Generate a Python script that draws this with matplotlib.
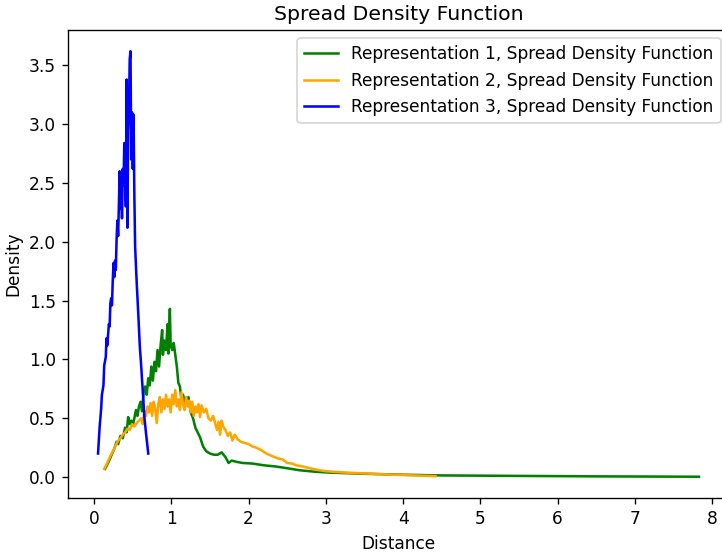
import matplotlib
matplotlib.use("Agg")
import matplotlib.pyplot as plt

# values
blue_x = [0.05, 0.07, 0.09, 0.10, 0.12, 0.13, 0.15, 0.16, 0.17, 0.19, 0.20, 0.21,
          0.22, 0.23, 0.24, 0.25, 0.26, 0.27, 0.28, 0.29, 0.30, 0.31, 0.32, 0.33,
          0.34, 0.35, 0.36, 0.37, 0.38, 0.39, 0.40, 0.41, 0.42, 0.43, 0.44, 0.45,
          0.46, 0.47, 0.48, 0.49, 0.50, 0.51, 0.52, 0.53, 0.55, 0.57, 0.59, 0.61,
          0.63, 0.65, 0.67, 0.70]
blue_y = [0.20, 0.42, 0.58, 0.70, 0.78, 0.95, 1.02, 1.18, 1.12, 1.30, 1.28, 1.48,
          1.52, 1.46, 1.66, 1.82, 1.70, 1.84, 1.76, 2.02, 2.18, 2.05, 2.32, 2.60,
          2.28, 2.58, 2.20, 2.62, 2.48, 2.84, 2.58, 2.30, 3.38, 2.12, 2.95, 3.12,
          3.55, 3.62, 2.70, 3.10, 2.62, 3.08, 2.40, 1.96, 1.66, 1.40, 1.12, 0.93,
          0.72, 0.51, 0.38, 0.20]

green_x = [0.14, 0.18, 0.22, 0.26, 0.29, 0.31, 0.34, 0.37, 0.40, 0.42, 0.44, 0.46,
           0.48, 0.50, 0.52, 0.54, 0.56, 0.58, 0.60, 0.62, 0.64, 0.66, 0.68, 0.70,
           0.72, 0.74, 0.76, 0.78, 0.80, 0.82, 0.84, 0.86, 0.88, 0.89, 0.91, 0.93,
           0.95, 0.96, 0.98, 0.99, 1.01, 1.03, 1.05, 1.07, 1.09, 1.11, 1.13, 1.15,
           1.18, 1.20, 1.22, 1.25, 1.28, 1.31, 1.34, 1.37, 1.41, 1.45, 1.50, 1.55,
           1.60, 1.65, 1.70, 1.74, 1.78, 1.84, 1.92, 2.05, 2.20, 2.35, 2.50, 2.66,
           2.85, 3.05, 3.50, 4.00, 4.50, 5.50, 6.50, 7.83]
green_y = [0.07, 0.12, 0.18, 0.24, 0.30, 0.28, 0.35, 0.33, 0.42, 0.38, 0.51, 0.45,
           0.48, 0.44, 0.50, 0.57, 0.52, 0.60, 0.64, 0.56, 0.72, 0.77, 0.70, 0.84,
           0.78, 0.94, 0.82, 0.98, 0.90, 1.08, 0.94, 1.12, 1.25, 1.04, 1.16, 1.08,
           1.30, 1.05, 1.43, 1.12, 1.08, 1.14, 1.04, 0.94, 0.80, 0.77, 0.66, 0.70,
           0.62, 0.66, 0.68, 0.55, 0.50, 0.42, 0.38, 0.34, 0.26, 0.22, 0.20, 0.19,
           0.19, 0.21, 0.17, 0.12, 0.14, 0.13, 0.12, 0.115, 0.10, 0.09, 0.075, 0.058,
           0.046, 0.038, 0.028, 0.020, 0.014, 0.010, 0.006, 0.003]

orange_x = [0.13, 0.17, 0.21, 0.25, 0.28, 0.31, 0.34, 0.37, 0.40, 0.43, 0.46, 0.49,
            0.52, 0.55, 0.58, 0.61, 0.63, 0.65, 0.67, 0.69, 0.71, 0.73, 0.75, 0.77,
            0.79, 0.81, 0.83, 0.85, 0.87, 0.89, 0.91, 0.93, 0.95, 0.97, 0.99, 1.01,
            1.03, 1.05, 1.07, 1.09, 1.11, 1.13, 1.15, 1.17, 1.19, 1.21, 1.23, 1.25,
            1.27, 1.29, 1.31, 1.33, 1.35, 1.37, 1.39, 1.42, 1.45, 1.48, 1.51, 1.54,
            1.57, 1.59, 1.61, 1.63, 1.65, 1.67, 1.70, 1.73, 1.76, 1.79, 1.82, 1.86,
            1.90, 1.95, 2.00, 2.05, 2.10, 2.16, 2.23, 2.30, 2.37, 2.44, 2.50, 2.56,
            2.62, 2.70, 2.80, 2.90, 3.00, 3.20, 3.50, 3.80, 4.10, 4.42]
orange_y = [0.07, 0.12, 0.18, 0.23, 0.27, 0.31, 0.33, 0.36, 0.38, 0.41, 0.40, 0.45,
            0.43, 0.46, 0.48, 0.50, 0.45, 0.56, 0.52, 0.60, 0.55, 0.63, 0.52, 0.64,
            0.58, 0.46, 0.62, 0.68, 0.55, 0.66, 0.58, 0.70, 0.60, 0.66, 0.55, 0.70,
            0.62, 0.74, 0.60, 0.66, 0.57, 0.72, 0.62, 0.57, 0.68, 0.60, 0.65, 0.55,
            0.64, 0.52, 0.60, 0.55, 0.62, 0.51, 0.61, 0.55, 0.58, 0.50, 0.48, 0.52,
            0.45, 0.40, 0.47, 0.36, 0.48, 0.43, 0.40, 0.35, 0.38, 0.31, 0.36, 0.32,
            0.30, 0.29, 0.28, 0.26, 0.25, 0.23, 0.20, 0.18, 0.16, 0.15, 0.12, 0.115,
            0.10, 0.09, 0.074, 0.06, 0.05, 0.04, 0.031, 0.022, 0.015, 0.008]

series = [
    (green_x, green_y, "green", "Representation 1, Spread Density Function"),
    (orange_x, orange_y, "orange", "Representation 2, Spread Density Function"),
    (blue_x, blue_y, "blue", "Representation 3, Spread Density Function"),
]

DPI = 122
fig = plt.figure(figsize=(722 / DPI, 556 / DPI), dpi=DPI)
# axes run a little past the right edge, as in the cropped reference
ax = fig.add_axes([68 / 722, 1 - 498 / 556, 661 / 722, 468 / 556])
for xs, ys, color, label in series:
    ax.plot(xs, ys, color=color, label=label)

ax.set_title("Spread Density Function")
ax.set_xlabel("Distance")
ax.set_ylabel("Density")
ax.legend(loc="upper right")

fig.savefig("out.png", dpi=DPI)
